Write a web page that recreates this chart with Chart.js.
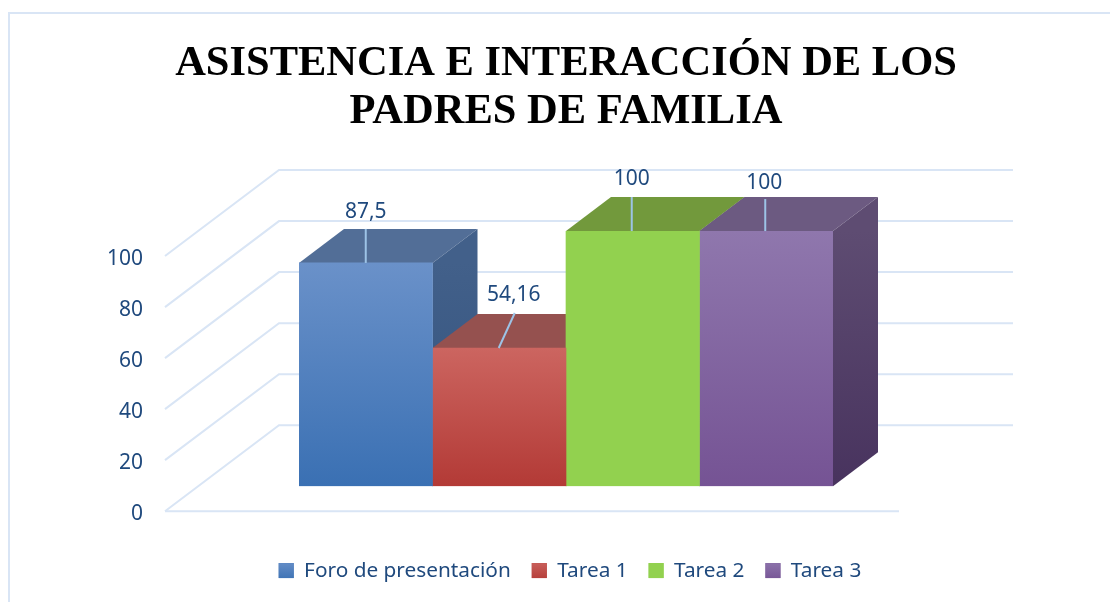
<!DOCTYPE html>
<html><head><meta charset="utf-8">
<style>html,body{margin:0;padding:0;background:#fff;overflow:hidden}#w{position:absolute;left:0;top:0;width:1110px;height:602px}</style>
<script src="https://cdn.jsdelivr.net/npm/chart.js@4"></script>
</head><body><div id="w"><canvas id="c" width="1110" height="602"></canvas></div>
<script>
const titleLines = ['ASISTENCIA E INTERACCIÓN DE LOS', 'PADRES DE FAMILIA'];
const categories = [''];
const seriesNames = ['Foro de presentación', 'Tarea 1', 'Tarea 2', 'Tarea 3'];
const seriesValues = [87.5, 54.16, 100, 100];
const valueLabels = ['87,5', '54,16', '100', '100'];
const tickValues = [0, 20, 40, 60, 80, 100];

const frontTop = ['#6A91C9', '#CC6560', '#92D14F', '#8F77AD'];
const frontBottom = ['#3A70B3', '#B33A36', '#92D14F', '#755394'];
const topColors = ['#526E97', '#95514F', '#72993C', '#6C5A81'];
const sideTop = ['#42608A', '#42608A', '#72993C', '#5E4C72'];
const sideBottom = ['#33527D', '#33527D', '#72993C', '#48335E'];

const TEXT = '#1F497D', GRID = '#D9E5F5', LEADER = '#9DC3E6', FRAME = '#D9E5F5';
const FONT = '"Noto Sans"';
const depth = {dx: 45, dy: -34};            // bar depth
const wall = {dx: 114, dy: -86, front: 25, x: 165, w: 734}; // floor/wall geometry
const labelOffsets = [
  {lx: 0, ly: -34, tx: 0, ty: -51},
  {lx: 16, ly: -35, tx: 15, ty: -52.5},
  {lx: 0, ly: -34, tx: 0, ty: -52.5},
  {lx: 0, ly: -32, tx: -1, ty: -48}
];

function poly(ctx, pts, fill) {
  ctx.beginPath();
  pts.forEach((p, i) => i ? ctx.lineTo(p[0], p[1]) : ctx.moveTo(p[0], p[1]));
  ctx.closePath(); ctx.fillStyle = fill; ctx.fill();
}

const threeD = {
  id: 'threeD',
  afterLayout(chart) {
    chart.titleBlock.left = 22;
  },
  beforeDatasetsDraw(chart) {
    const {ctx, scales: {y}} = chart;
    ctx.save();
    ctx.strokeStyle = FRAME; ctx.lineWidth = 2;
    ctx.beginPath(); ctx.moveTo(9, 602); ctx.lineTo(9, 13); ctx.lineTo(1110, 13); ctx.stroke();
    ctx.strokeStyle = GRID; ctx.lineWidth = 2;
    tickValues.forEach(v => {
      const f = y.getPixelForValue(v) + wall.front;
      ctx.beginPath();
      ctx.moveTo(wall.x, f);
      ctx.lineTo(wall.x + wall.dx, f + wall.dy);
      ctx.lineTo(wall.x + wall.dx + wall.w, f + wall.dy);
      ctx.stroke();
    });
    const z = y.getPixelForValue(0) + wall.front;
    ctx.beginPath(); ctx.moveTo(wall.x, z); ctx.lineTo(wall.x + wall.w, z); ctx.stroke();
    seriesValues.forEach((_, i) => {
      const b = chart.getDatasetMeta(i).data[0];
      const hw = b.width / 2, l = b.x - hw, r = b.x + hw, t = b.y, bot = b.base;
      poly(ctx, [[l, t], [l + depth.dx, t + depth.dy], [r + depth.dx, t + depth.dy], [r, t]], topColors[i]);
      const g = ctx.createLinearGradient(0, t, 0, bot);
      g.addColorStop(0, sideTop[i]); g.addColorStop(1, sideBottom[i]);
      poly(ctx, [[r, t], [r + depth.dx, t + depth.dy], [r + depth.dx, bot + depth.dy], [r, bot]], g);
    });
    ctx.restore();
  },
  afterDatasetsDraw(chart) {
    const {ctx} = chart;
    ctx.save();
    ctx.textAlign = 'center'; ctx.textBaseline = 'middle';
    ctx.font = '21px ' + FONT;
    seriesValues.forEach((_, i) => {
      const b = chart.getDatasetMeta(i).data[0], o = labelOffsets[i];
      const sx = b.x + (i === 1 ? -0.5 : 0) + (i >= 2 ? -1 : 0);
      ctx.strokeStyle = LEADER; ctx.lineWidth = 2;
      ctx.beginPath(); ctx.moveTo(sx, b.y); ctx.lineTo(sx + o.lx, b.y + o.ly); ctx.stroke();
      ctx.fillStyle = TEXT;
      ctx.fillText(valueLabels[i], sx + o.tx, b.y + o.ty);
    });
    (chart.legend.legendHitBoxes || []).forEach((h, i) => {
      const g = ctx.createLinearGradient(0, h.top, 0, h.top + h.height);
      g.addColorStop(0, frontTop[i]); g.addColorStop(1, frontBottom[i]);
      ctx.fillStyle = g;
      ctx.fillRect(h.left, h.top + (h.height - 15) / 2, 15, 15);
    });
    ctx.restore();
  }
};

new Chart(document.getElementById('c'), {
  type: 'bar',
  data: {
    labels: categories,
    datasets: seriesNames.map((name, i) => ({
      label: name,
      data: [seriesValues[i]],
      borderWidth: 0,
      barPercentage: 1,
      categoryPercentage: 1,
      backgroundColor(c) {
        const a = c.chart.chartArea;
        if (!a) return frontBottom[i];
        const yTop = c.chart.scales.y.getPixelForValue(seriesValues[i]);
        const g = c.chart.ctx.createLinearGradient(0, yTop, 0, a.bottom);
        g.addColorStop(0, frontTop[i]); g.addColorStop(1, frontBottom[i]);
        return g;
      }
    }))
  },
  plugins: [threeD],
  options: {
    responsive: false,
    animation: false,
    layout: {padding: {left: 30, right: 0, top: 40, bottom: 11}},
    plugins: {
      tooltip: {enabled: false},
      title: {
        display: true, text: titleLines, color: '#000',
        font: {family: '"Liberation Serif"', size: 42.5, weight: 'bold', lineHeight: 1.13},
        padding: {top: 0, bottom: 95}
      },
      legend: {
        position: 'bottom',
        labels: {
          color: TEXT, boxWidth: 15, boxHeight: 15, padding: 21,
          font: {family: FONT, size: 20.8}
        }
      }
    },
    scales: {
      x: {
        display: true, grid: {display: false}, border: {display: false},
        ticks: {display: false},
        afterFit(s) { s.height = 53; }
      },
      y: {
        min: 0, max: 100,
        grid: {display: false}, border: {display: false},
        afterFit(s) { s.width = 269; s.paddingTop = 0; s.paddingBottom = 0; },
        afterBuildTicks(s) { s.ticks = tickValues.map(value => ({value})); },
        ticks: {
          color: TEXT, padding: 148, labelOffset: 28,
          font: {family: FONT, size: 21}
        }
      },
      yRight: {
        position: 'right', display: true, min: 0, max: 100,
        grid: {display: false}, border: {display: false}, ticks: {display: false},
        afterFit(s) { s.width = 277; s.paddingTop = 0; s.paddingBottom = 0; }
      }
    }
  }
});
</script></body></html>
